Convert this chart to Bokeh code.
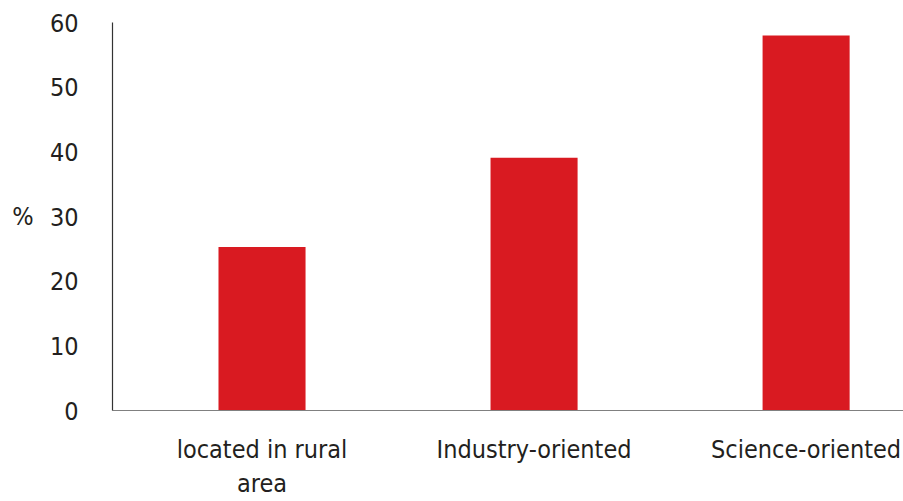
from bokeh.plotting import figure
from bokeh.models import Range1d, FixedTicker, LinearAxis
from bokeh.embed import file_html
from bokeh.resources import INLINE

categories = ["located in rural\narea", "Industry-oriented", "Science-oriented"]
values = [25.3, 39.1, 58.0]
y_ticks = [0, 10, 20, 30, 40, 50, 60]
unit_label = "%"

FONT = "DejaVu Sans Condensed"
FS = "25px"
TXT = "#231f20"

xs = [i + 0.5 for i in range(len(categories))]

p = figure(width=903, height=501, output_backend="svg", toolbar_location=None,
           x_range=Range1d(-0.0496, 2.858), y_range=Range1d(0, 60),
           min_border_left=112, min_border_right=0, min_border_top=22, min_border_bottom=80)
p.outline_line_color = None
p.grid.grid_line_color = None
p.background_fill_color = "white"

p.vbar(x=xs, top=values, width=0.32, bottom=0, color="#d91a21", line_color=None)

p.yaxis.ticker = FixedTicker(ticks=y_ticks)
p.yaxis.major_tick_line_color = None
p.yaxis.minor_tick_line_color = None
p.yaxis.axis_line_color = "#333333"
p.yaxis.axis_line_width = 1.2
p.yaxis.major_label_standoff = 28
p.yaxis.major_label_text_font = FONT
p.yaxis.major_label_text_font_size = FS
p.yaxis.major_label_text_color = TXT

# unit label drawn as the single tick label of an outer, line-less axis
mid = (y_ticks[0] + y_ticks[-1]) / 2
unit_axis = LinearAxis(ticker=FixedTicker(ticks=[mid]),
                       major_label_overrides={mid: unit_label},
                       axis_line_color=None, major_tick_line_color=None,
                       minor_tick_line_color=None, major_label_standoff=7,
                       major_label_text_font=FONT, major_label_text_font_size=FS,
                       major_label_text_color=TXT)
p.add_layout(unit_axis, "left")

p.xaxis.ticker = FixedTicker(ticks=xs)
p.xaxis.major_label_overrides = {x: c for x, c in zip(xs, categories)}
p.xaxis.major_tick_line_color = None
p.xaxis.minor_tick_line_color = None
p.xaxis.axis_line_color = "#808080"
p.xaxis.axis_line_width = 1.2
p.xaxis.major_label_standoff = 18
p.xaxis.major_label_text_font = FONT
p.xaxis.major_label_text_font_size = FS
p.xaxis.major_label_text_color = TXT

open("out.html", "w").write(file_html(p, INLINE))
